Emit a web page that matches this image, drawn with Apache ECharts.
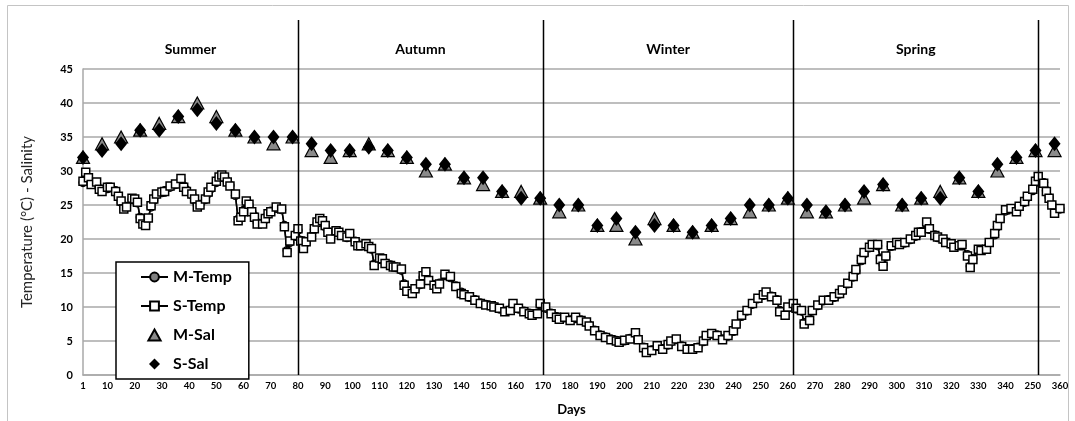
<!DOCTYPE html>
<html>
<head>
<meta charset="utf-8">
<script src="https://cdn.jsdelivr.net/npm/echarts@6/dist/echarts.min.js"></script>
<style>
  html, body { margin: 0; padding: 0; background: #fff; }
  #chart { width: 1075px; height: 421px; }
</style>
</head>
<body>
<div id="chart"></div>
<script>
// x axis tick labels (the odd "250" near the end is as printed in the original)
var tickDays = [1, 10, 20, 30, 40, 50, 60, 70, 80, 90, 100, 110, 120, 130, 140, 150, 160, 170, 180,
  190, 200, 210, 220, 230, 240, 250, 260, 270, 280, 290, 300, 310, 320, 330, 340, 350, 360]
var tickText = ['1', '10', '20', '30', '40', '50', '60', '70', '80', '90', '100', '110', '120', '130', '140',
  '150', '160', '170', '180', '190', '200', '210', '220', '230', '240', '250', '260', '270', '280', '290',
  '300', '310', '320', '330', '340', '250', '360']

// season boundaries (days) and names
var seasonEdges = [1, 80, 170, 262, 352]
var seasonNames = ['Summer', 'Autumn', 'Winter', 'Spring']

// temperature sampling days
var tDays = [1, 2, 3, 4, 6, 7, 8, 10, 11, 13, 14, 15, 16, 17, 19, 20, 21, 22, 23, 24, 25, 26, 27, 28, 30, 31,
  33, 35, 37, 38, 39, 41, 42, 43, 44, 46, 47, 48, 50, 51, 52, 53, 54, 55, 57, 58, 59, 60, 61, 62, 63, 64, 65,
  67, 68, 69, 70, 72, 74, 75, 76, 77, 79, 80, 81, 82, 83, 85, 86, 87, 88, 89, 90, 91, 92, 94, 95, 96, 98, 99,
  101, 102, 103, 105, 106, 107, 108, 110, 111, 112, 114, 115, 116, 118, 119, 120, 122, 123, 125, 126, 127,
  128, 130, 131, 132, 134, 136, 138, 140, 141, 143, 145, 147, 149, 151, 152, 154, 156, 158, 159, 161, 163,
  165, 166, 168, 169, 171, 173, 175, 176, 178, 180, 182, 184, 186, 187, 189, 191, 193, 195, 197, 198, 200,
  202, 204, 205, 207, 208, 210, 212, 214, 216, 217, 219, 221, 223, 225, 227, 229, 230, 232, 234, 236, 238,
  240, 241, 243, 245, 247, 249, 251, 252, 254, 256, 257, 259, 260, 262, 263, 265, 266, 268, 269, 271, 273,
  275, 277, 279, 280, 282, 284, 285, 287, 288, 290, 291, 293, 294, 295, 296, 298, 300, 301, 303, 305, 307,
  308, 309, 311, 312, 314, 315, 317, 318, 320, 321, 323, 324, 326, 327, 328, 330, 331, 333, 334, 336, 337,
  338, 340, 342, 344, 345, 347, 348, 350, 351, 352, 354, 355, 356, 357, 358, 360]

var sTemp = [28.5, 29.8, 29.0, 28.0, 28.4, 27.3, 27.0, 27.6, 27.6, 27.0, 26.3, 25.6, 24.4, 24.7, 26.0, 25.9,
  25.4, 23.0, 22.2, 22.0, 23.1, 24.9, 25.9, 26.6, 26.9, 27.0, 27.8, 28.1, 28.9, 27.6, 27.0, 26.6, 25.9, 24.7,
  25.0, 25.9, 26.9, 27.6, 28.5, 29.1, 29.4, 29.1, 28.4, 27.8, 26.6, 22.7, 23.2, 24.0, 25.6, 25.1, 24.0, 23.2,
  22.2, 22.2, 23.0, 23.7, 24.0, 24.7, 24.4, 21.8, 18.0, 19.7, 20.5, 21.5, 19.7, 18.6, 19.6, 20.3, 21.5, 22.5,
  23.0, 22.7, 22.0, 21.0, 20.0, 21.2, 21.0, 20.5, 20.3, 20.8, 19.6, 19.0, 19.0, 19.3, 18.9, 18.6, 16.1, 17.2,
  17.1, 16.4, 16.1, 15.9, 15.9, 15.6, 13.2, 12.3, 12.0, 12.7, 13.4, 14.6, 15.2, 13.9, 13.2, 12.7, 13.4, 14.8,
  14.5, 13.0, 12.0, 11.8, 11.5, 11.0, 10.5, 10.3, 10.2, 10.0, 9.8, 9.3, 9.5, 10.5, 9.8, 9.3, 9.0, 8.8, 9.0,
  10.5, 10.0, 9.0, 8.5, 8.2, 8.5, 8.0, 8.5, 8.0, 7.8, 7.2, 6.5, 5.8, 5.5, 5.2, 5.0, 4.8, 5.1, 5.3, 6.2, 5.2,
  4.0, 3.3, 3.6, 4.3, 3.8, 4.5, 5.0, 5.3, 4.2, 3.8, 3.8, 4.0, 5.0, 5.8, 6.1, 5.8, 5.2, 5.8, 6.5, 7.5, 8.8,
  9.5, 10.5, 11.3, 11.8, 12.2, 11.5, 11.0, 9.3, 8.8, 10.0, 10.5, 9.8, 9.5, 7.5, 8.0, 9.5, 10.3, 11.0, 11.0,
  11.5, 12.0, 12.5, 13.5, 14.5, 15.5, 17.0, 18.0, 18.8, 19.2, 19.2, 17.0, 16.0, 17.5, 19.0, 19.5, 19.2, 19.5,
  20.0, 20.5, 21.0, 21.0, 22.5, 21.5, 20.5, 20.3, 20.0, 19.5, 19.3, 18.8, 19.0, 19.2, 17.5, 15.8, 17.0, 18.5,
  18.3, 18.5, 19.5, 20.8, 22.0, 23.0, 24.3, 24.5, 24.0, 24.8, 25.5, 26.3, 27.3, 28.5, 29.2, 28.2, 27.0, 26.0,
  25.0, 23.8, 24.5]

var mTemp = [28.3, 29.5, 28.7, 28.1, 28.2, 27.4, 27.1, 27.4, 27.5, 27.1, 26.2, 25.4, 24.6, 24.8, 25.8, 25.7,
  25.3, 23.2, 22.4, 22.1, 23.0, 24.7, 25.7, 26.5, 26.8, 27.1, 27.6, 28.0, 28.7, 27.8, 27.2, 26.5, 25.7, 24.9,
  25.1, 25.8, 26.7, 27.4, 28.3, 29.0, 29.2, 29.0, 28.5, 27.9, 26.4, 22.9, 23.3, 24.2, 25.4, 25.0, 24.1, 23.4,
  22.4, 22.3, 22.9, 23.6, 24.1, 24.5, 24.3, 22.0, 18.3, 19.5, 20.4, 21.3, 19.8, 18.8, 19.5, 20.4, 21.4, 22.3,
  22.8, 22.6, 21.8, 21.1, 20.2, 21.0, 20.9, 20.6, 20.2, 20.6, 19.7, 19.1, 19.1, 19.2, 18.8, 18.5, 16.3, 17.0,
  17.0, 16.5, 16.2, 16.0, 15.8, 15.4, 13.4, 12.5, 12.1, 12.6, 13.3, 14.4, 15.0, 14.0, 13.3, 12.8, 13.5, 14.6,
  14.3, 13.1, 12.2, 11.9, 11.4, 11.1, 10.6, 10.4, 10.1, 10.1, 9.7, 9.4, 9.6, 10.3, 9.7, 9.4, 9.1, 8.9, 9.1,
  10.3, 9.8, 9.1, 8.6, 8.3, 8.4, 8.1, 8.3, 8.1, 7.7, 7.3, 6.6, 5.9, 5.6, 5.3, 5.1, 4.9, 5.0, 5.4, 6.0, 5.3,
  4.1, 3.5, 3.7, 4.2, 3.9, 4.4, 4.9, 5.2, 4.3, 3.9, 3.9, 4.1, 4.9, 5.7, 6.0, 5.9, 5.3, 5.7, 6.4, 7.4, 8.6,
  9.4, 10.4, 11.2, 11.7, 12.0, 11.6, 11.1, 9.5, 8.9, 9.8, 10.4, 9.7, 9.4, 7.7, 8.1, 9.4, 10.2, 10.9, 11.1,
  11.4, 11.9, 12.4, 13.4, 14.4, 15.3, 16.8, 17.8, 18.7, 19.1, 19.0, 17.2, 16.2, 17.4, 18.9, 19.4, 19.3, 19.4,
  19.9, 20.4, 20.8, 21.1, 22.3, 21.4, 20.6, 20.2, 19.9, 19.6, 19.2, 18.9, 19.1, 19.1, 17.7, 16.0, 17.1, 18.4,
  18.4, 18.6, 19.4, 20.6, 21.8, 22.9, 24.1, 24.4, 24.1, 24.7, 25.4, 26.1, 27.1, 28.3, 29.0, 28.3, 27.1, 26.1,
  25.1, 24.0, 24.4]

// salinity, sampled weekly
var salDays = [1, 8, 15, 22, 29, 36, 43, 50, 57, 64, 71, 78, 85, 92, 99, 106, 113, 120, 127, 134, 141, 148,
  155, 162, 169, 176, 183, 190, 197, 204, 211, 218, 225, 232, 239, 246, 253, 260, 267, 274, 281, 288, 295,
  302, 309, 316, 323, 330, 337, 344, 351, 358]
var mSal = [32, 34, 35, 36, 37, 38, 40, 38, 36, 35, 34, 35, 33, 32, 33, 34, 33, 32, 30, 31, 29, 28, 27, 27,
  26, 24, 25, 22, 22, 20, 23, 22, 21, 22, 23, 24, 25, 26, 24, 24, 25, 26, 28, 25, 26, 27, 29, 27, 30, 32, 33, 33]
var sSal = [32, 33, 34, 36, 36, 38, 39, 37, 36, 35, 35, 35, 34, 33, 33, 33.5, 33, 32, 31, 31, 29, 29, 27, 26,
  26, 25, 25, 22, 23, 21, 22, 22, 21, 22, 23, 25, 25, 26, 25, 24, 25, 27, 28, 25, 26, 26, 29, 27, 31, 32, 33, 34]

function pairs (xs, ys) {
  return ys.map(function (v, i) { return [xs[i], v] })
}

var gridColor = '#a9a9a9'
var myChart = echarts.init(document.getElementById('chart'))

var option = {
  animation: false,
  backgroundColor: '#fff',
  textStyle: { fontFamily: 'Lato' },
  grid: { left: 83, right: 15, top: 69, bottom: 44 },
  legend: {
    orient: 'vertical',
    left: 116,
    top: 262,
    padding: [7, 17, 7, 24],
    itemWidth: 27,
    itemHeight: 11,
    itemGap: 13,
    symbolKeepAspect: true,
    backgroundColor: '#fff',
    borderColor: '#000',
    borderWidth: 1.5,
    textStyle: { fontSize: 16, fontWeight: 'bold', color: '#000', lineHeight: 14 },
    data: [
      'M-Temp',
      'S-Temp',
      // path icons keep their aspect, so the markers stay small like the original key
      { name: 'M-Sal', icon: 'path://M5,0L10,9L0,9Z' },
      { name: 'S-Sal', icon: 'path://M6,0L12,6L6,12L0,6Z' }
    ]
  },
  xAxis: {
    type: 'value',
    min: 1,
    max: 360,
    name: 'Days',
    nameLocation: 'middle',
    nameGap: 28,
    nameTextStyle: { fontSize: 13, fontWeight: 'bold', color: '#000' },
    axisLine: { lineStyle: { color: gridColor, width: 1.5 } },
    axisTick: { show: false },
    splitLine: { show: false },
    axisLabel: {
      customValues: tickDays,
      formatter: function (v) { return tickText[tickDays.indexOf(v)] },
      fontSize: 9.5,
      fontWeight: 'bold',
      color: '#000',
      margin: 6
    }
  },
  yAxis: {
    type: 'value',
    min: 0,
    max: 45,
    interval: 5,
    name: 'Temperature (°C) - Salinity',
    nameLocation: 'middle',
    nameGap: 48,
    nameTextStyle: { fontSize: 15, color: '#262626' },
    axisLine: { show: true, lineStyle: { color: gridColor, width: 1.5 } },
    axisTick: { show: false },
    splitLine: { lineStyle: { color: gridColor, width: 1.5 } },
    axisLabel: { fontSize: 11, fontWeight: 'bold', color: '#000', margin: 10 }
  },
  series: [
    {
      name: 'M-Temp',
      type: 'line',
      data: pairs(tDays, mTemp),
      symbol: 'circle',
      symbolSize: 8,
      showAllSymbol: true,
      lineStyle: { color: '#000', width: 1.5 },
      itemStyle: { color: '#7f7f7f', borderColor: '#000', borderWidth: 1.2 },
      z: 2
    },
    {
      name: 'S-Temp',
      type: 'line',
      data: pairs(tDays, sTemp),
      symbol: 'rect',
      symbolSize: 8,
      showAllSymbol: true,
      lineStyle: { color: '#000', width: 1.5 },
      itemStyle: { color: '#fff', borderColor: '#000', borderWidth: 1.5 },
      z: 3
    },
    {
      name: 'M-Sal',
      type: 'scatter',
      data: pairs(salDays, mSal),
      symbol: 'triangle',
      symbolSize: [13, 12],
      itemStyle: { color: '#8a8a8a', borderColor: '#000', borderWidth: 1.2, opacity: 1 },
      z: 4
    },
    {
      name: 'S-Sal',
      type: 'scatter',
      data: pairs(salDays, sSal),
      symbol: 'diamond',
      symbolSize: [12, 15],
      itemStyle: { color: '#000', opacity: 1 },
      z: 5
    }
  ]
}

myChart.setOption(option)

// season dividers and season names, placed through the axes
var yBottom = myChart.convertToPixel({ yAxisIndex: 0 }, 0)
var graphics = []
seasonEdges.slice(1).forEach(function (d) {
  var x = Math.round(myChart.convertToPixel({ xAxisIndex: 0 }, d)) + 0.5
  graphics.push({
    type: 'line',
    silent: true,
    z: 10,
    shape: { x1: x, y1: 20, x2: x, y2: yBottom },
    style: { stroke: '#000', lineWidth: 1.5 }
  })
})
seasonNames.forEach(function (name, i) {
  var mid = (seasonEdges[i] + seasonEdges[i + 1]) / 2
  graphics.push({
    type: 'text',
    silent: true,
    x: myChart.convertToPixel({ xAxisIndex: 0 }, mid),
    y: 49,
    style: {
      text: name,
      font: 'bold 14px Lato',
      fill: '#000',
      align: 'center',
      verticalAlign: 'middle'
    }
  })
})
// thin outer frame like the original picture
graphics.push({
  type: 'rect',
  silent: true,
  shape: { x: 7.5, y: 5.5, width: 1061, height: 440 },
  style: { fill: 'none', stroke: '#c4c4c4', lineWidth: 1 }
})
myChart.setOption({ graphic: graphics })

window.addEventListener('resize', function () {
  myChart.resize()
})
</script>
</body>
</html>
